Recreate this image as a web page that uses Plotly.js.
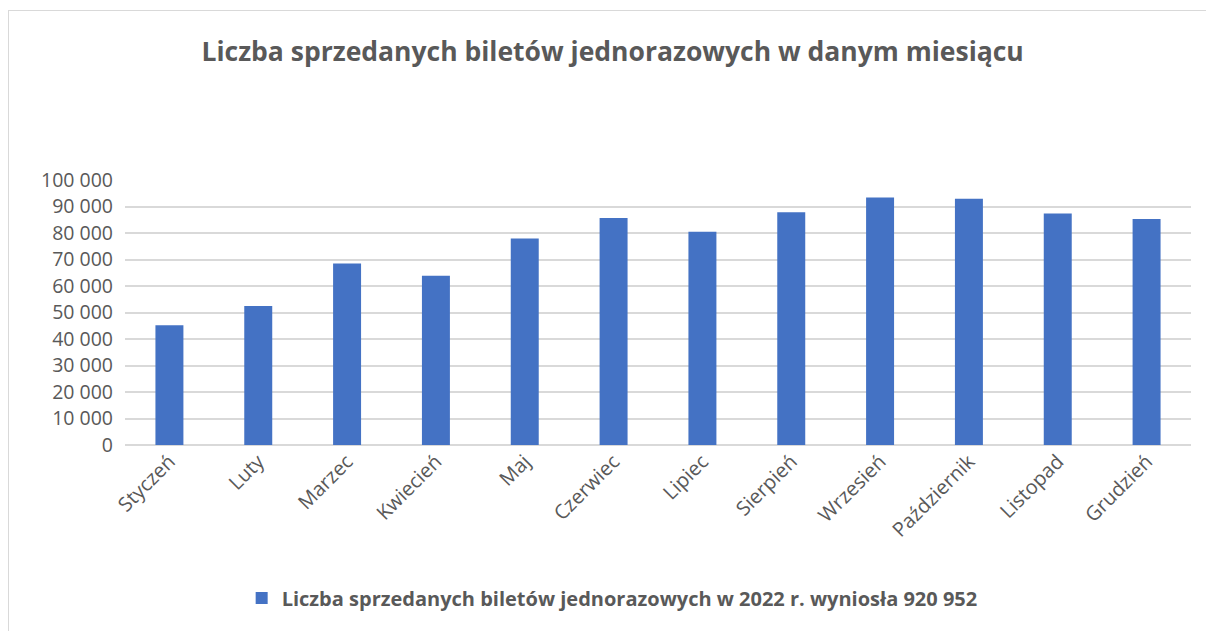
<!DOCTYPE html>
<html>
<head>
<meta charset="utf-8">
<script src="https://cdn.plot.ly/plotly-3.0.1.min.js"></script>
<style>
html,body{margin:0;padding:0;background:#fff;}
#wrap{position:relative;width:1206px;height:631px;}
#chart{position:absolute;left:0;top:0;width:1206px;height:631px;}
#frame{position:absolute;left:8px;top:10px;width:1210px;height:640px;border:1px solid #d9d9d9;pointer-events:none;box-sizing:border-box;}
</style>
</head>
<body>
<div id="wrap"><div id="chart"></div><div id="frame"></div></div>
<script>
var months = ["Styczeń","Luty","Marzec","Kwiecień","Maj","Czerwiec","Lipiec","Sierpień","Wrzesień","Październik","Listopad","Grudzień"];
var tickets = [45200, 52500, 68500, 63900, 77900, 85700, 80500, 87800, 93400, 92900, 87400, 85300];
var seriesName = "Liczba sprzedanych biletów jednorazowych w 2022 r. wyniosła 920 952";
var chartTitle = "Liczba sprzedanych biletów jednorazowych w danym miesiącu";

var font = "Open Sans, Noto Sans, sans-serif";
var grey = "#595959";

Plotly.newPlot("chart", [{
  type: "bar",
  x: months,
  y: tickets,
  name: "<b>" + seriesName + "</b>",
  marker: {color: "#4472C4"},
  showlegend: true,
  hoverinfo: "x+y"
}], {
  width: 1206,
  height: 631,
  paper_bgcolor: "#fff",
  plot_bgcolor: "#fff",
  separators: ", ",
  margin: {l: 125, r: 15, t: 180, b: 186, autoexpand: false},
  bargap: 0.685,
  title: {
    text: "<b>" + chartTitle + "</b>",
    font: {family: font, size: 26.5, color: grey},
    x: 0.508, xanchor: "center", xref: "container",
    y: 0.918, yanchor: "middle", yref: "container"
  },
  xaxis: {
    type: "category",
    tickangle: -45,
    tickfont: {family: font, size: 20, color: grey},
    showgrid: false,
    showline: false,
    ticks: "",
    automargin: false,
    fixedrange: true
  },
  yaxis: {
    range: [0, 100000],
    dtick: 10000,
    tickformat: ",d",
    tickfont: {family: font, size: 19.5, color: grey},
    gridcolor: "#d9d9d9",
    gridwidth: 1.5,
    zeroline: true,
    zerolinecolor: "#d9d9d9",
    zerolinewidth: 1.5,
    showline: false,
    ticks: "",
    ticklabelstandoff: 11,
    automargin: false,
    fixedrange: true
  },
  showlegend: true,
  legend: {
    orientation: "h",
    x: 0.457, xanchor: "center",
    y: -0.577, yanchor: "middle",
    font: {family: font, size: 20, color: grey},
    itemwidth: 30
  }
}, {displayModeBar: false});
</script>
</body>
</html>
